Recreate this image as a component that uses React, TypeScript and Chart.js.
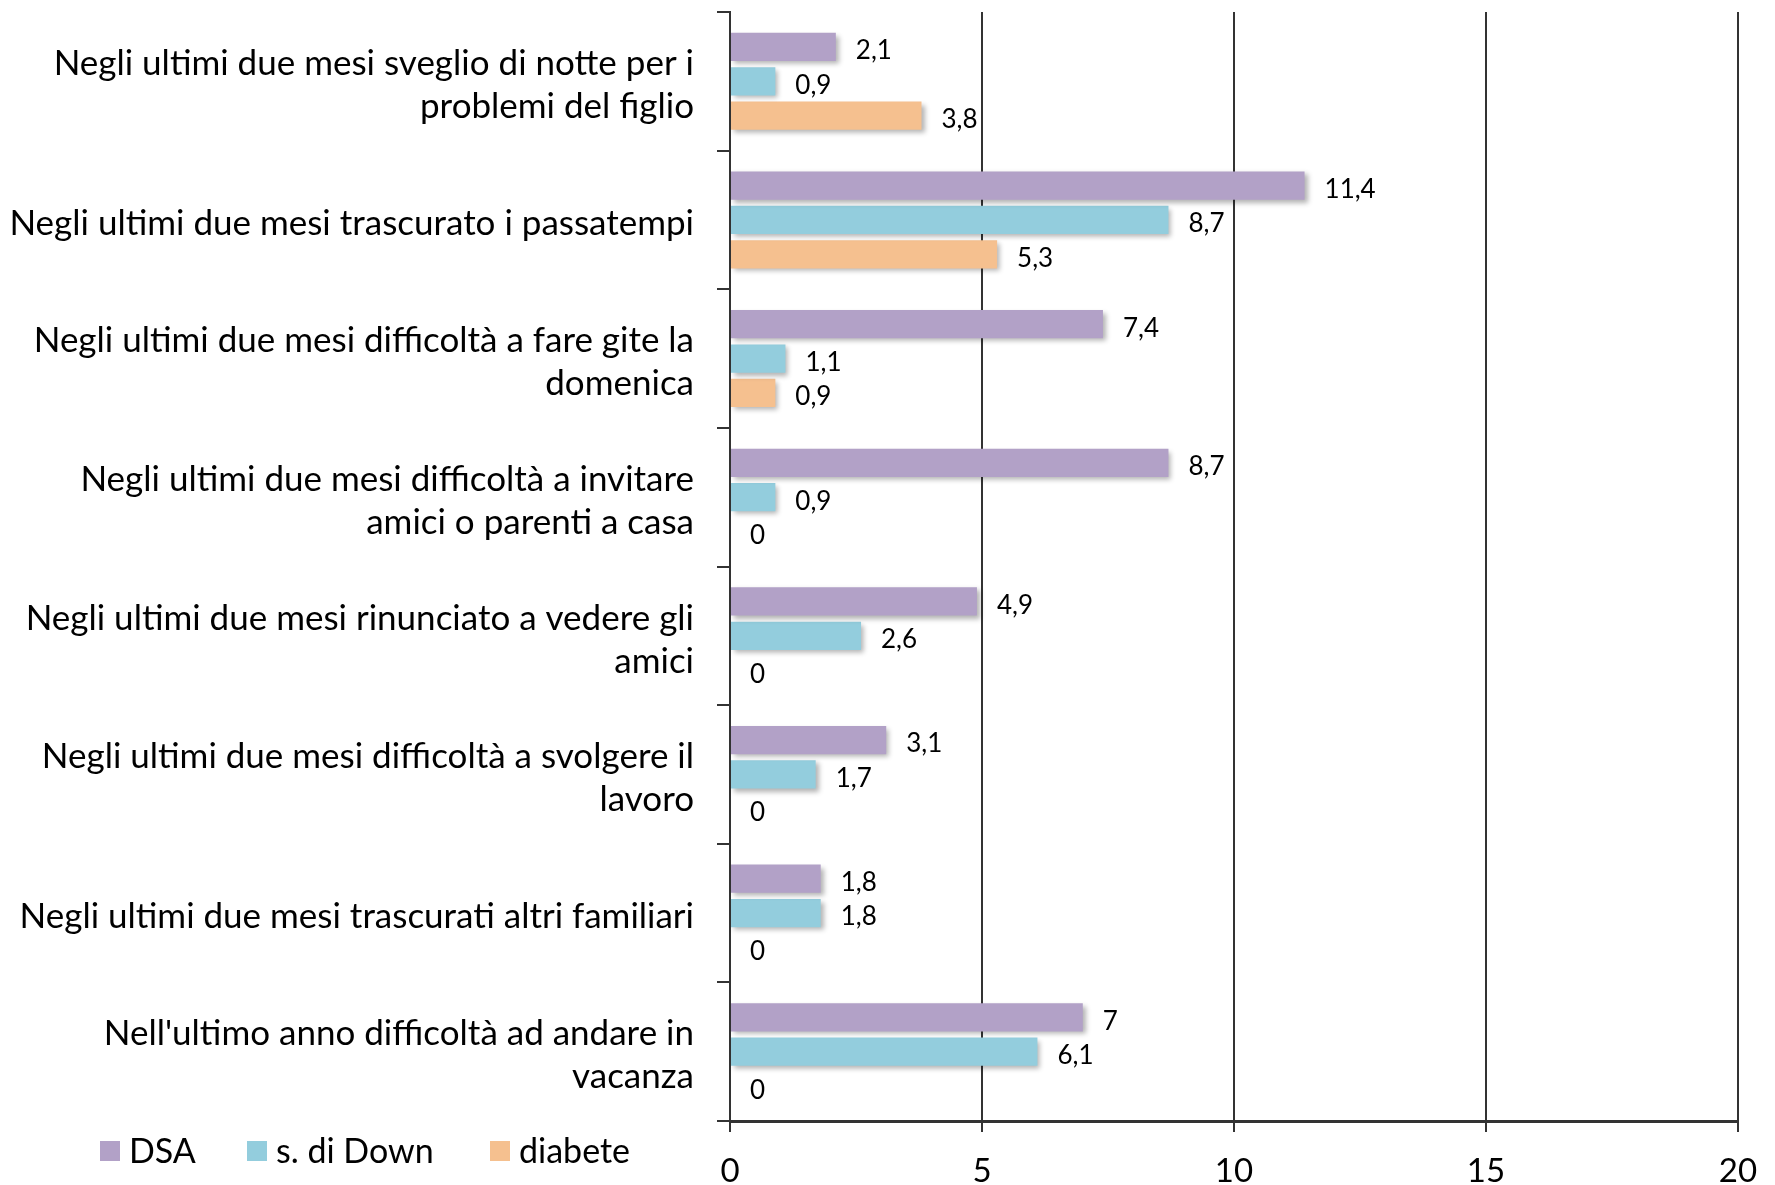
import React, { useEffect, useRef } from "react";
import { Chart, registerables } from "chart.js";

Chart.register(...registerables);

const categories: string[][] = [
  ["Negli ultimi due mesi sveglio di notte per i", "problemi del figlio"],
  ["Negli ultimi due mesi trascurato i passatempi"],
  ["Negli ultimi due mesi difficoltà a fare gite la", "domenica"],
  ["Negli ultimi due mesi difficoltà a invitare", "amici o parenti a casa"],
  ["Negli ultimi due mesi rinunciato a vedere gli", "amici"],
  ["Negli ultimi due mesi difficoltà a svolgere il", "lavoro"],
  ["Negli ultimi due mesi trascurati altri familiari"],
  ["Nell'ultimo anno difficoltà ad andare in", "vacanza"],
];

const dsaValues = [2.1, 11.4, 7.4, 8.7, 4.9, 3.1, 1.8, 7];
const downValues = [0.9, 8.7, 1.1, 0.9, 2.6, 1.7, 1.8, 6.1];
const diabeteValues = [3.8, 5.3, 0.9, 0, 0, 0, 0, 0];

const seriesNames = ["DSA", "s. di Down", "diabete"];
const seriesColors = ["#B2A1C7", "#93CDDD", "#F5C08F"];

const xTicks = [0, 5, 10, 15, 20];

const FONT = "Lato";
const fmt = (v: number) => String(v).replace(".", ",");

// soft drop shadow under the bars
const barShadow = {
  id: "barShadow",
  beforeDatasetsDraw(chart: any) {
    const ctx = chart.ctx;
    ctx.save();
    ctx.shadowColor = "rgba(0,0,0,0.3)";
    ctx.shadowBlur = 5;
    ctx.shadowOffsetX = 3;
    ctx.shadowOffsetY = 3;
  },
  afterDatasetsDraw(chart: any) {
    chart.ctx.restore();
  },
};

// value labels to the right of each bar
const valueLabels = {
  id: "valueLabels",
  afterDraw(chart: any) {
    const ctx = chart.ctx;
    ctx.save();
    ctx.font = `26px ${FONT}`;
    ctx.fillStyle = "#000";
    ctx.textAlign = "left";
    ctx.textBaseline = "middle";
    chart.data.datasets.forEach((ds: any, i: number) => {
      const meta = chart.getDatasetMeta(i);
      meta.data.forEach((bar: any, j: number) => {
        ctx.fillText(fmt(ds.data[j]), bar.x + 20, bar.y + 4);
      });
    });
    ctx.restore();
  },
};

// legend row in the bottom-left corner
const bottomLegend = {
  id: "bottomLegend",
  afterDraw(chart: any) {
    const ctx = chart.ctx;
    ctx.save();
    ctx.font = `34px ${FONT}`;
    ctx.textBaseline = "middle";
    ctx.textAlign = "left";
    const starts = [100, 247, 490];
    const y = 1151;
    chart.data.datasets.forEach((ds: any, i: number) => {
      const x = starts[i];
      ctx.fillStyle = ds.backgroundColor;
      ctx.fillRect(x, y - 10, 20, 20);
      ctx.fillStyle = "#000";
      ctx.fillText(ds.label, x + 29, y + 1);
    });
    ctx.restore();
  },
};

export default function App() {
  const canvasRef = useRef<HTMLCanvasElement | null>(null);

  useEffect(() => {
    document.body.style.margin = "0";
    const canvas = canvasRef.current;
    if (!canvas) return;
    const chart = new Chart(canvas, {
      type: "bar",
      data: {
        labels: categories,
        datasets: [dsaValues, downValues, diabeteValues].map((data, i) => ({
          label: seriesNames[i],
          data,
          backgroundColor: seriesColors[i],
          borderWidth: 0,
          categoryPercentage: 0.745,
          barPercentage: 0.82,
        })),
      },
      options: {
        indexAxis: "y",
        responsive: true,
        maintainAspectRatio: false,
        animation: false,
        layout: { padding: { top: 12, right: 37, left: 0, bottom: 0 } },
        plugins: {
          legend: { display: false },
          tooltip: { enabled: false },
        },
        scales: {
          x: {
            type: "linear",
            min: 0,
            max: 20,
            afterBuildTicks: (scale: any) => {
              scale.ticks = xTicks.map((v) => ({ value: v }));
            },
            afterFit: (scale: any) => {
              scale.height = 64;
              scale.paddingLeft = 0;
              scale.paddingRight = 0;
            },
            ticks: {
              color: "#000",
              font: { family: FONT, size: 33 },
              padding: 20,
            },
            grid: {
              color: "#333",
              lineWidth: 2,
              drawTicks: true,
              tickLength: 11,
              tickColor: "#333",
            },
            border: { display: true, color: "#333", width: 3 },
          },
          y: {
            type: "category",
            offset: true,
            afterFit: (scale: any) => {
              scale.width = 730;
              scale.paddingTop = 0;
              scale.paddingBottom = 0;
            },
            ticks: {
              color: "#000",
              font: { family: FONT, size: 35, lineHeight: 1.23 },
              padding: 23,
              labelOffset: 4,
              autoSkip: false,
            },
            grid: {
              offset: true,
              drawOnChartArea: false,
              drawTicks: true,
              tickLength: 13,
              color: "#333",
              lineWidth: 2,
            },
            border: { display: true, color: "#333", width: 2 },
          },
        },
      },
      plugins: [barShadow, valueLabels, bottomLegend],
    } as any);
    return () => chart.destroy();
  }, []);

  return (
    <div style={{ position: "relative", width: 1775, height: 1185, background: "#fff" }}>
      <canvas ref={canvasRef} />
    </div>
  );
}
